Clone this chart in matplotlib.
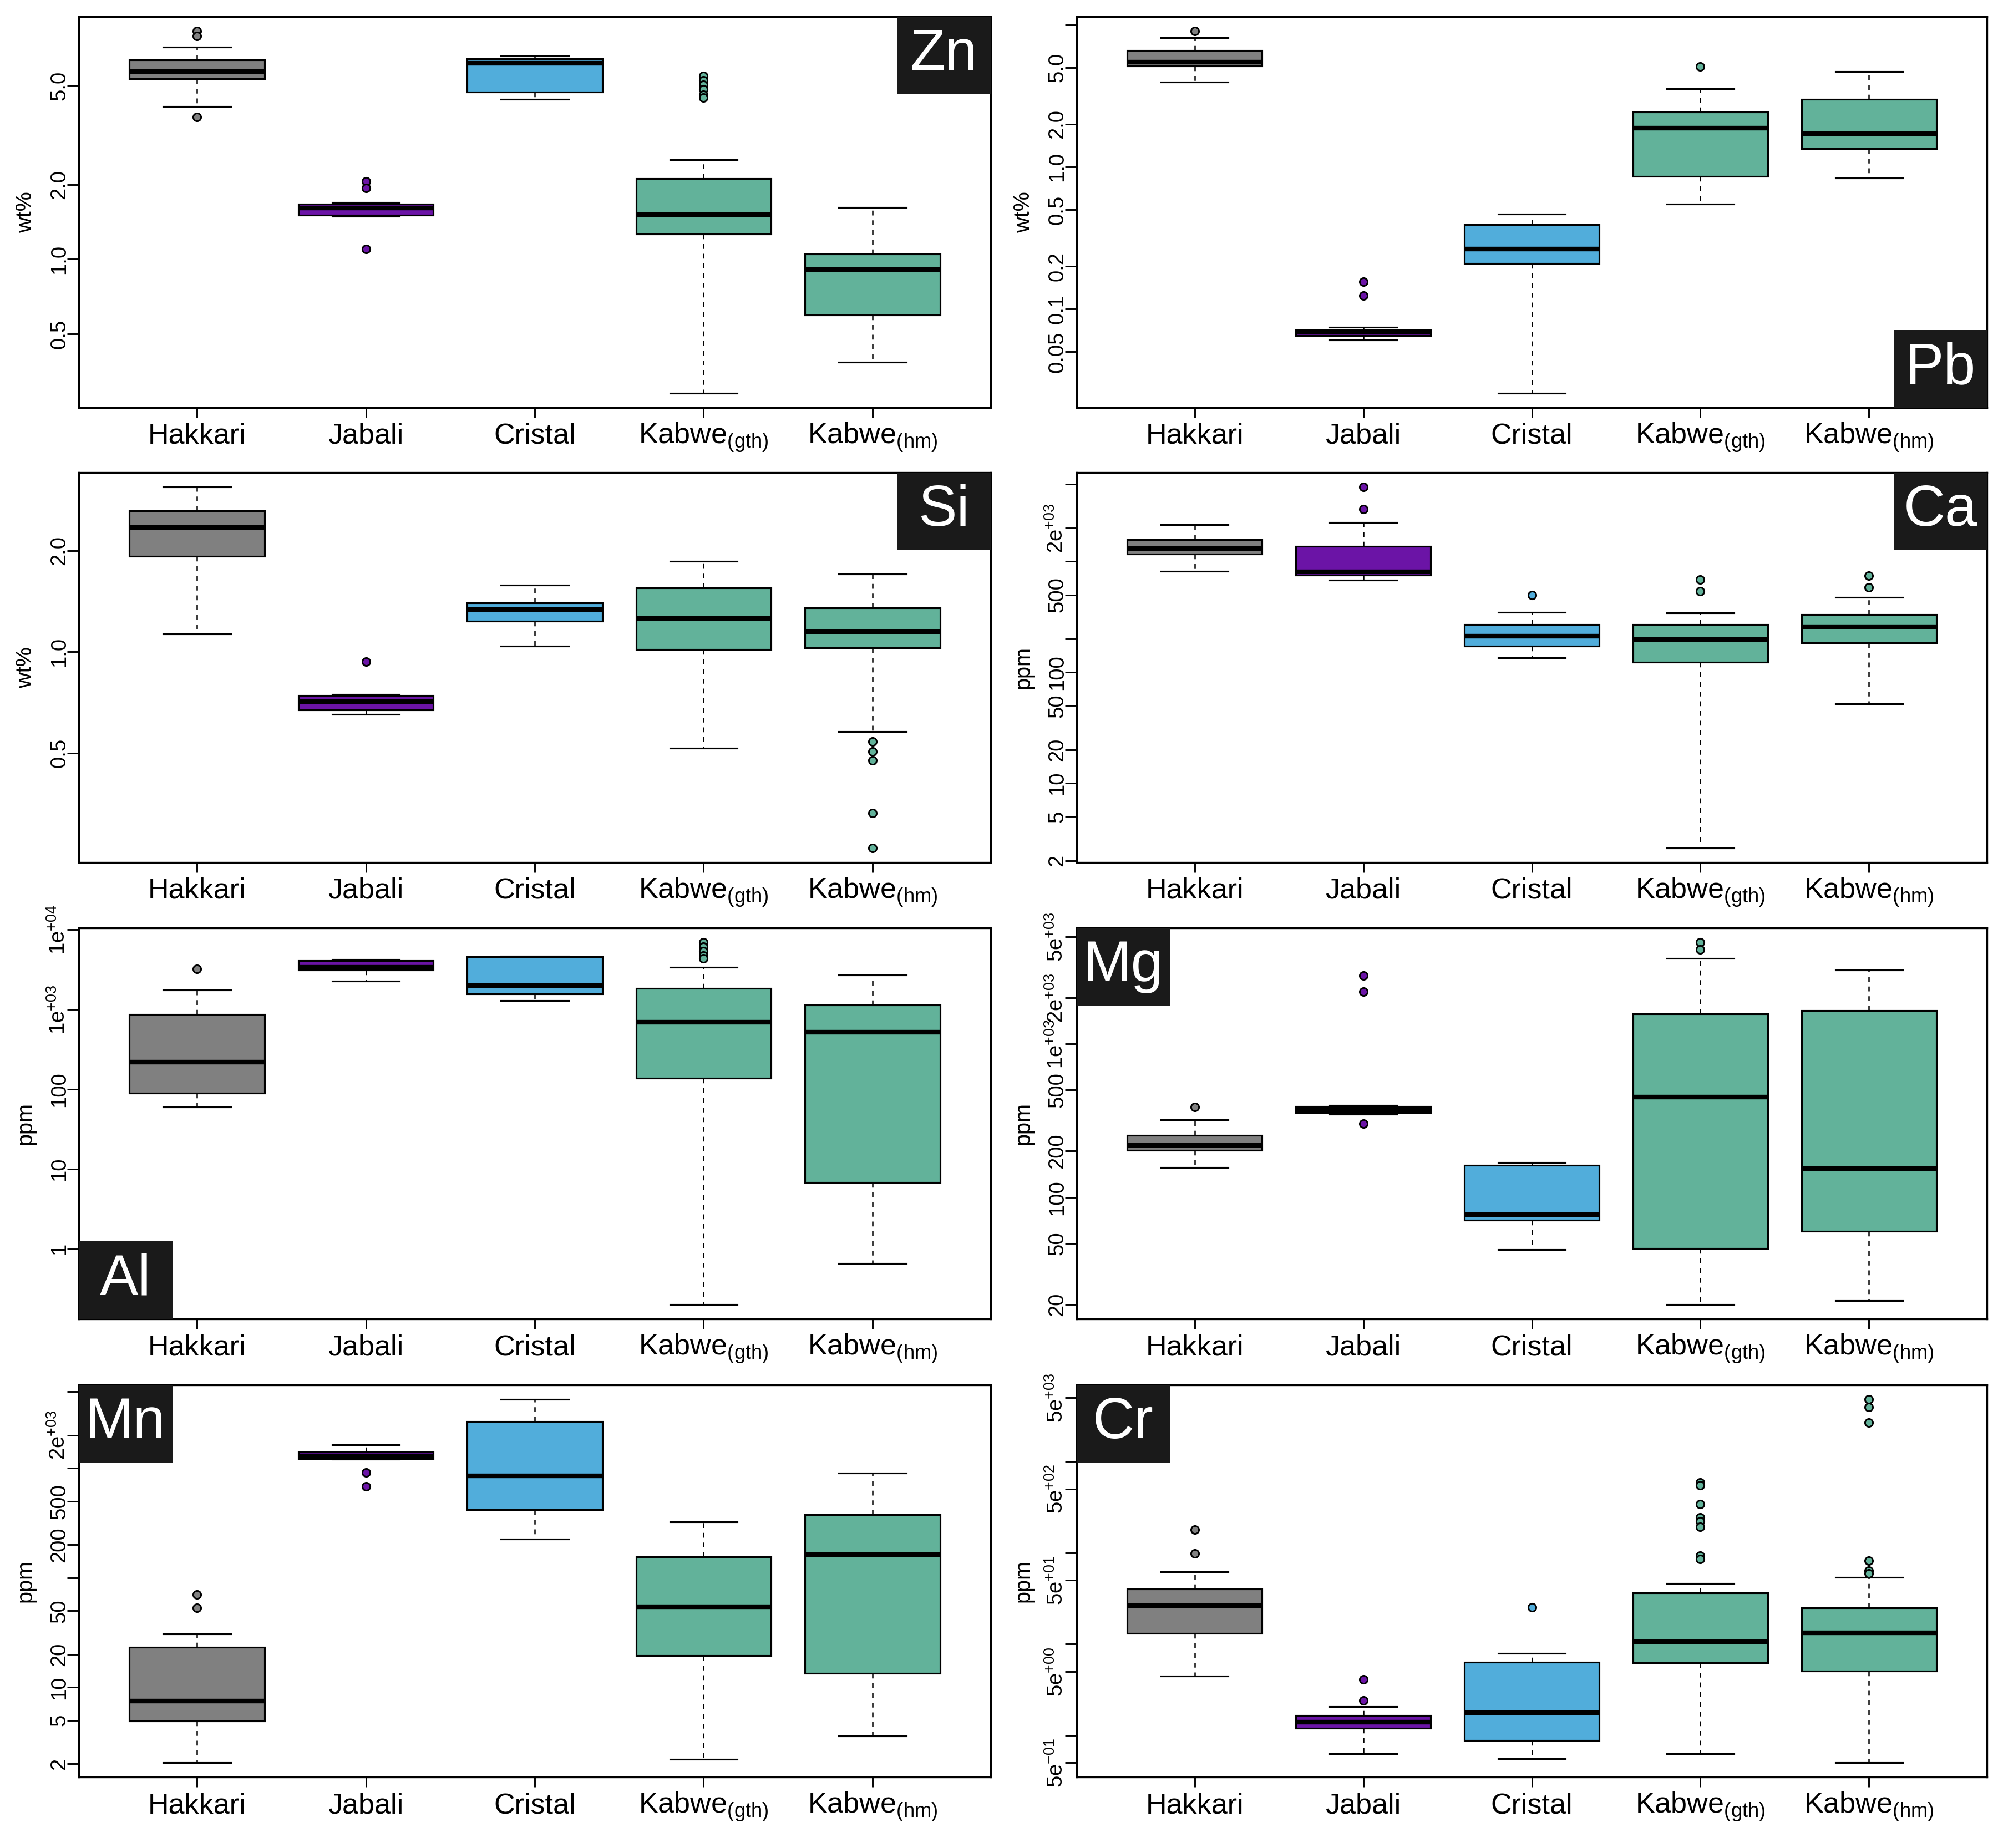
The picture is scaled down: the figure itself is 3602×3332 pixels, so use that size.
import numpy as np
import matplotlib
matplotlib.use('Agg')
import matplotlib.pyplot as plt
import matplotlib.patches as patches
from matplotlib.ticker import NullLocator

plt.rcParams['font.family'] = ['Liberation Sans', 'DejaVu Sans']
plt.rcParams['mathtext.fontset'] = 'custom'
plt.rcParams['mathtext.rm'] = 'Liberation Sans'
plt.rcParams['mathtext.it'] = 'Liberation Sans:italic'
plt.rcParams['mathtext.bf'] = 'Liberation Sans:bold'
plt.rcParams['mathtext.default'] = 'regular'

groups = ['Hakkari', 'Jabali', 'Cristal', 'Kabwe$_{(gth)}$', 'Kabwe$_{(hm)}$']
colors = ['#808080', '#6B14A6', '#51ADDB', '#62B29A', '#62B29A']

# per group: lower whisker, Q1, median, Q3, upper whisker
zn_box = [[4.11, 5.32, 5.68, 6.35, 7.14],
          [1.49, 1.50, 1.605, 1.667, 1.694],
          [4.40, 4.71, 6.15, 6.40, 6.58],
          [0.289, 1.26, 1.51, 2.11, 2.52],
          [0.386, 0.597, 0.909, 1.05, 1.614]]
zn_out = [[8.28, 7.93, 3.74], [2.055, 1.93, 1.097], [], [5.47, 5.25, 5.04, 4.83, 4.58, 4.46], []]

pb_box = [[3.95, 5.11, 5.44, 6.58, 8.12],
          [0.0608, 0.065, 0.0689, 0.0715, 0.0746],
          [0.0256, 0.210, 0.264, 0.394, 0.464],
          [0.548, 0.855, 1.876, 2.44, 3.56],
          [0.838, 1.35, 1.72, 3.0, 4.67]]
pb_out = [[9.02], [0.1556, 0.1244], [], [5.09], []]

si_box = [[1.128, 1.92, 2.34, 2.62, 3.09],
          [0.652, 0.672, 0.711, 0.741, 0.747],
          [1.041, 1.233, 1.333, 1.396, 1.581],
          [0.517, 1.016, 1.255, 1.549, 1.857],
          [0.579, 1.028, 1.146, 1.352, 1.703]]
si_out = [[], [0.934], [], [], [0.540, 0.505, 0.476, 0.331, 0.261]]

ca_box = [[818, 1172, 1306, 1578, 2154],
          [681, 755, 807, 1374, 2249],
          [135, 173, 211, 270, 347],
          [2.6, 123, 197, 270, 342],
          [51.8, 185, 259, 332, 475]]
ca_out = [[], [4699, 2975], [499], [686, 541], [747, 585]]

al_box = [[60.3, 89, 218, 863, 1770],
          [2259, 3118, 3389, 4083, 4227],
          [1306, 1560, 1991, 4560, 4638],
          [0.201, 137, 698, 1829, 3389],
          [0.656, 6.81, 524, 1140, 2698]]
al_out = [[3251], [], [], [6950, 6120, 5400, 4750, 4365], []]

mg_box = [[156, 202, 219, 254, 321],
          [349, 357, 368, 392, 397],
          [45.5, 70.6, 77.1, 162, 169],
          [20.0, 46.3, 451, 1567, 3596],
          [21.2, 60.0, 154, 1653, 3033]]
mg_out = [[386], [2789, 2188, 302], [], [4592, 4130], []]

mn_box = [[2.06, 4.94, 7.48, 23.1, 30.6],
          [1210, 1222, 1290, 1413, 1644],
          [226, 420, 855, 2687, 4250],
          [2.2, 19.5, 54.7, 156, 324],
          [3.59, 13.4, 163, 375, 899]]
mn_out = [[70.3, 53.0], [910, 685], [], [], []]

cr_box = [[4.49, 13.2, 26.5, 40.1, 62.1],
          [0.626, 1.19, 1.40, 1.66, 2.06],
          [0.555, 0.886, 1.76, 6.31, 7.97],
          [0.631, 6.21, 10.7, 36.4, 45.9],
          [0.504, 5.03, 13.3, 24.9, 53.9]]
cr_out = [[179, 97.8], [4.13, 2.40], [25.3], [594, 551, 342, 244, 223, 194, 93.3, 85.3],
          [4808, 3983, 2692, 82.2, 64.1, 59.5]]

zn_ticks = [0.5, 1, 2, 5]
zn_labels = ['0.5', '1.0', '2.0', '5.0']
pb_ticks = [0.05, 0.1, 0.2, 0.5, 1, 2, 5, 10]
pb_labels = ['0.05', '0.1', '0.2', '0.5', '1.0', '2.0', '5.0', '']
si_ticks = [0.5, 1, 2]
si_labels = ['0.5', '1.0', '2.0']
ca_ticks = [2, 5, 10, 20, 50, 100, 200, 500, 1000, 2000, 5000]
ca_labels = ['2', '5', '10', '20', '50', '100', '', '500', '', '2e$^{+03}$', '']
al_ticks = [1, 10, 100, 1000, 10000]
al_labels = ['1', '10', '100', '1e$^{+03}$', '1e$^{+04}$']
mg_ticks = [20, 50, 100, 200, 500, 1000, 2000, 5000]
mg_labels = ['20', '50', '100', '200', '500', '1e$^{+03}$', '2e$^{+03}$', '5e$^{+03}$']
mn_ticks = [2, 5, 10, 20, 50, 100, 200, 500, 1000, 2000, 5000]
mn_labels = ['2', '5', '10', '20', '50', '', '200', '500', '', '2e$^{+03}$', '']
cr_ticks = [0.5, 1, 5, 10, 50, 100, 500, 1000, 5000]
cr_labels = ['5e$^{-01}$', '', '5e$^{+00}$', '', '5e$^{+01}$', '', '5e$^{+02}$', '', '5e$^{+03}$']

W, H = 3602, 3332
fig = plt.figure(figsize=(W / 300, H / 300), dpi=300)

# axes boxes in pixels: left, right / top, bottom
cols = [(142, 1786), (1941, 3582)]
rows = [(30, 735), (852, 1555), (1673, 2378), (2497, 3204)]


def make_axes(r, c):
    x0, x1 = cols[c]
    y0, y1 = rows[r]
    return fig.add_axes([x0 / W, 1 - y1 / H, (x1 - x0) / W, (y1 - y0) / H])


def draw_panel(ax, box, out, ticks, labels, ylab, tag, corner):
    stats = []
    for b, o in zip(box, out):
        stats.append(dict(whislo=b[0], q1=b[1], med=b[2], q3=b[3], whishi=b[4], fliers=o))
    bp = ax.bxp(stats, positions=range(1, 6), widths=0.8, patch_artist=True,
                boxprops=dict(lw=0.75, edgecolor='black'),
                medianprops=dict(color='black', lw=2.0, solid_capstyle='butt'),
                whiskerprops=dict(color='black', lw=0.6, linestyle=(0, (3.5, 3.5))),
                capprops=dict(color='black', lw=0.75),
                flierprops=dict(marker='o', markersize=3.4, markeredgecolor='black',
                                markeredgewidth=0.7))
    for p, c in zip(bp['boxes'], colors):
        p.set_facecolor(c)
    for f, c in zip(bp['fliers'], colors):
        f.set_markerfacecolor(c)

    ax.set_yscale('log')
    vals = [v for b in box for v in b] + [v for o in out for v in o]
    lo, hi = np.log10(min(vals)), np.log10(max(vals))
    ext = 0.04 * (hi - lo)
    ax.set_ylim(10 ** (lo - ext), 10 ** (hi + ext))
    ax.set_xlim(0.3, 5.7)

    ax.tick_params(axis='x', length=4.2, width=0.7, pad=11.4)
    ax.tick_params(axis='y', length=5, width=0.7, pad=-1)
    ax.set_xticks(range(1, 6))
    ax.set_xticklabels(groups, fontsize=12.5, va='baseline')
    ax.set_yticks(ticks)
    ax.set_yticklabels(labels, rotation=90, va='center', fontsize=9.2)
    ax.yaxis.set_minor_locator(NullLocator())
    for s in ax.spines.values():
        s.set_linewidth(0.8)

    ax.set_ylabel(ylab, fontsize=9.5)
    ax.yaxis.set_label_coords(-0.047, 0.5)

    w, h = 0.1025, 0.198
    x0 = 1 - w if corner[1] == 'r' else 0
    y0 = 1 - h if corner[0] == 't' else 0
    ax.add_patch(patches.Rectangle((x0, y0), w, h, transform=ax.transAxes, facecolor='#1a1a1a',
                                   edgecolor='none', zorder=5, clip_on=False))
    ax.text(x0 + w / 2, y0 + h / 2, tag, transform=ax.transAxes, color='white', fontsize=25,
            ha='center', va='center', zorder=6)


draw_panel(make_axes(0, 0), zn_box, zn_out, zn_ticks, zn_labels, 'wt%', 'Zn', 'tr')
draw_panel(make_axes(0, 1), pb_box, pb_out, pb_ticks, pb_labels, 'wt%', 'Pb', 'br')
draw_panel(make_axes(1, 0), si_box, si_out, si_ticks, si_labels, 'wt%', 'Si', 'tr')
draw_panel(make_axes(1, 1), ca_box, ca_out, ca_ticks, ca_labels, 'ppm', 'Ca', 'tr')
draw_panel(make_axes(2, 0), al_box, al_out, al_ticks, al_labels, 'ppm', 'Al', 'bl')
draw_panel(make_axes(2, 1), mg_box, mg_out, mg_ticks, mg_labels, 'ppm', 'Mg', 'tl')
draw_panel(make_axes(3, 0), mn_box, mn_out, mn_ticks, mn_labels, 'ppm', 'Mn', 'tl')
draw_panel(make_axes(3, 1), cr_box, cr_out, cr_ticks, cr_labels, 'ppm', 'Cr', 'tl')

fig.savefig('out.png', dpi=300)
